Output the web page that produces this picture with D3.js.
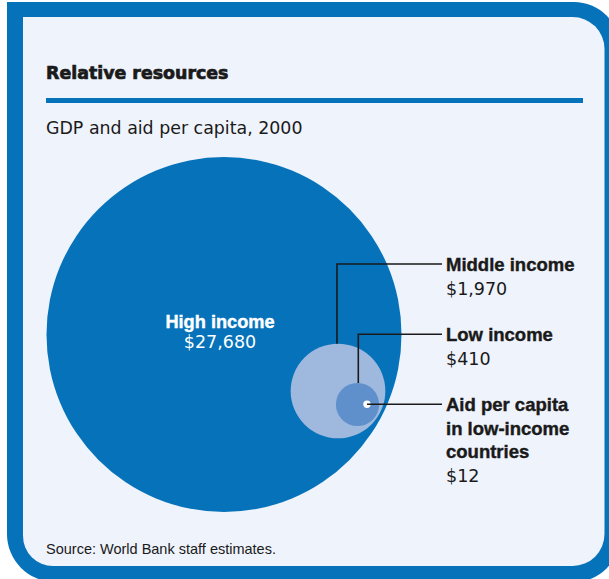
<!DOCTYPE html>
<html>
<head>
<meta charset="utf-8">
<script src="https://cdn.jsdelivr.net/npm/d3@7"></script>
<style>
  html, body { margin: 0; padding: 0; background: #ffffff; }
  svg { display: block; }
</style>
</head>
<body>
<svg id="chart" width="609" height="579"></svg>
<script>
// GDP and aid per capita, 2000 (US$)
const categories = ["High income", "Middle income", "Low income", "Aid per capita"];
const values = [27680, 1970, 410, 12];
const valueLabels = ["$27,680", "$1,970", "$410", "$12"];
const labelLines = [
  ["High income"],
  ["Middle income"],
  ["Low income"],
  ["Aid per capita", "in low-income", "countries"]
];
const circleColors = ["#0572b9", "#9eb8de", "#5f90cb", "#ffffff"];

const title = "Relative resources";
const subtitle = "GDP and aid per capita, 2000";
const source = "Source: World Bank staff estimates.";

const BLUE = "#0572b9";
const PANEL = "#eff3fb";
const INK = "#1a1a1a";

const svg = d3.select("#chart");

// Rounded rectangle with a separate radius for each corner
function roundedRect(x0, y0, x1, y1, rTL, rTR, rBR, rBL) {
  const p = d3.path();
  p.moveTo(x0 + rTL, y0);
  p.lineTo(x1 - rTR, y0);
  if (rTR) p.arcTo(x1, y0, x1, y0 + rTR, rTR);
  p.lineTo(x1, y1 - rBR);
  if (rBR) p.arcTo(x1, y1, x1 - rBR, y1, rBR);
  p.lineTo(x0 + rBL, y1);
  if (rBL) p.arcTo(x0, y1, x0, y1 - rBL, rBL);
  p.lineTo(x0, y0 + rTL);
  if (rTL) p.arcTo(x0, y0, x0 + rTL, y0, rTL);
  p.closePath();
  return p.toString();
}

// Frame: heavy blue border around a pale panel
svg.append("path").attr("d", roundedRect(7, 2, 620, 582, 0, 46, 46, 48)).attr("fill", BLUE);
svg.append("path").attr("d", roundedRect(23, 17, 604.5, 566, 0, 32, 32, 30)).attr("fill", PANEL);

// Heading block
svg.append("text")
  .attr("x", 46).attr("y", 78.5)
  .attr("font-family", "DejaVu Sans").attr("font-weight", "bold")
  .attr("font-size", 17.4).attr("fill", INK)
  .attr("stroke", INK).attr("stroke-width", 0.7)
  .text(title);

svg.append("rect")
  .attr("x", 46).attr("y", 98).attr("width", 537).attr("height", 5)
  .attr("fill", BLUE);

svg.append("text")
  .attr("x", 46).attr("y", 133.5)
  .attr("font-family", "DejaVu Sans")
  .attr("font-size", 17.4).attr("fill", INK)
  .text(subtitle);

svg.append("text")
  .attr("x", 46).attr("y", 554)
  .attr("font-family", "Liberation Sans")
  .attr("font-size", 14.5).attr("fill", INK)
  .text(source);

// Circle area proportional to value
const r = d3.scaleSqrt().domain([0, d3.max(values)]).range([0, 177.5]);

// Circle centres (nested, bottom-right of the large circle)
const centers = [[224, 334.5], [338, 391], [357.5, 404.5], [367, 404.3]];

const nodes = values.map((v, i) => ({
  name: categories[i], value: v, label: valueLabels[i], lines: labelLines[i],
  cx: centers[i][0], cy: centers[i][1], r: r(v), color: circleColors[i]
}));

svg.append("g").selectAll("circle")
  .data(nodes)
  .join("circle")
  .attr("cx", d => d.cx).attr("cy", d => d.cy)
  .attr("r", d => d.r)
  .attr("fill", d => d.color);

// Label inside the large circle
const big = nodes[0];
const bigLabel = svg.append("text")
  .attr("text-anchor", "middle")
  .attr("fill", "#ffffff");
bigLabel.append("tspan")
  .attr("x", big.cx - 4).attr("y", 327.5)
  .attr("font-family", "Liberation Sans").attr("font-weight", "bold")
  .attr("font-size", 18.2)
  .attr("stroke", "#ffffff").attr("stroke-width", 0.4)
  .text(big.lines[0]);
bigLabel.append("tspan")
  .attr("x", big.cx - 4).attr("y", 348)
  .attr("font-family", "DejaVu Sans")
  .attr("font-size", 17.5)
  .text(big.label);

// Callouts to the right
const lineEnd = 442;
const textX = 446;
const lineH = 23.5;
const calloutY = [null, 264, 334.3, 404.3];

const g = svg.append("g");
nodes.slice(1).forEach((d, k) => {
  const i = k + 1;
  const y = calloutY[i];
  let pts;
  if (i < 3) {
    const vx = i === 1 ? 337 : 358.3;
    const top = d.cy - Math.sqrt(d.r * d.r - (vx - d.cx) * (vx - d.cx));
    pts = [[vx, top], [vx, y], [lineEnd, y]];
  } else {
    pts = [[d.cx, y], [lineEnd, y]];
  }
  g.append("path")
    .attr("d", d3.line()(pts))
    .attr("fill", "none").attr("stroke", INK).attr("stroke-width", 1.6);

  const t = g.append("text").attr("fill", INK);
  const base = y + 7;
  d.lines.forEach((ln, j) => {
    t.append("tspan")
      .attr("x", textX).attr("y", base + j * lineH)
      .attr("font-family", "Liberation Sans").attr("font-weight", "bold")
      .attr("font-size", 18.5)
      .attr("stroke", INK).attr("stroke-width", 0.4)
      .text(ln);
  });
  t.append("tspan")
    .attr("x", textX).attr("y", base + d.lines.length * lineH + 0.5)
    .attr("font-family", "DejaVu Sans")
    .attr("font-size", 17.5)
    .text(d.label);
});
</script>
</body>
</html>
